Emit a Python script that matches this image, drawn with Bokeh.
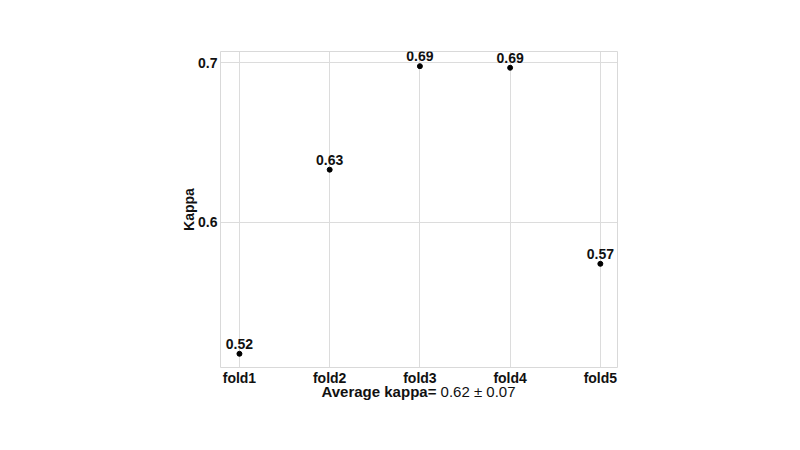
from bokeh.plotting import figure
from bokeh.models import FixedTicker, Range1d, ColumnDataSource, Div
from bokeh.layouts import column
from bokeh.core.properties import value
from bokeh.embed import file_html
from bokeh.resources import INLINE

folds = ["fold1", "fold2", "fold3", "fold4", "fold5"]
kappa = [0.5176, 0.633, 0.6979, 0.6969, 0.574]
kappa_labels = ["0.52", "0.63", "0.69", "0.69", "0.57"]
y_ticks = [0.6, 0.7]
avg_label = "Average kappa="
avg_value = "0.62 \u00b1 0.07"

FONT = "Liberation Sans"
xs = list(range(len(folds)))
src = ColumnDataSource(dict(x=xs, y=kappa, lab=kappa_labels))

p = figure(width=792, height=389, output_backend="svg", toolbar_location=None,
           x_range=Range1d(-0.21, 4.19), y_range=Range1d(0.509, 0.7071),
           min_border_left=220, min_border_right=175, min_border_top=51,
           min_border_bottom=22)
p.outline_line_color = "#d9d9d9"
p.outline_line_width = 1
p.background_fill_color = "white"
p.border_fill_color = "white"

p.scatter("x", "y", source=src, size=5, color="black")
p.text("x", "y", text="lab", source=src, text_align="center", text_baseline="bottom",
       y_offset=-5, text_font=value(FONT), text_font_style="bold",
       text_font_size="14px", text_color="#111111")

p.xaxis.ticker = FixedTicker(ticks=xs)
p.xaxis.major_label_overrides = {i: f for i, f in enumerate(folds)}
p.yaxis.ticker = FixedTicker(ticks=y_ticks)
for ax in (p.xaxis[0], p.yaxis[0]):
    ax.axis_line_color = None
    ax.major_tick_line_color = None
    ax.minor_tick_line_color = None
    ax.major_tick_out = 0
    ax.major_tick_in = 0
    ax.major_label_text_font = FONT
    ax.major_label_text_font_style = "bold"
    ax.major_label_text_font_size = "14px"
    ax.major_label_text_color = "#111111"
p.xaxis.major_label_standoff = 2
p.yaxis.major_label_standoff = 3
p.yaxis.axis_label = "Kappa"
p.yaxis.axis_label_text_font = FONT
p.yaxis.axis_label_text_font_style = "bold"
p.yaxis.axis_label_text_font_size = "14px"
p.yaxis.axis_label_text_color = "#111111"
p.yaxis.axis_label_standoff = -2

p.xgrid.grid_line_color = "#dcdcdc"
p.ygrid.grid_line_color = "#dcdcdc"

div = Div(
    text=f"<b>{avg_label}</b> {avg_value}",
    width=397, margin=(-5, 0, 0, 220),
    styles={"text-align": "center", "font-family": FONT, "font-size": "15px",
            "line-height": "16px", "color": "#111111", "width": "397px"},
)

layout = column(p, div, spacing=0)
open("out.html", "w").write(file_html(layout, INLINE))
